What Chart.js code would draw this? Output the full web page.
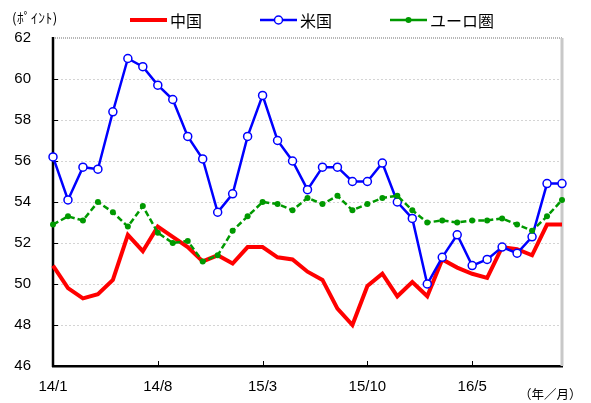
<!DOCTYPE html>
<html><head><meta charset="utf-8">
<script src="https://cdn.jsdelivr.net/npm/chart.js@4.4.1/dist/chart.umd.min.js"></script>
<style>
html,body{margin:0;padding:0;background:#fff;}
#wrap{position:relative;width:591px;height:403px;}
#c{position:absolute;left:0;top:0;}
.unit{position:absolute;font-family:"Noto Sans CJK JP";color:#000;white-space:nowrap;}
#legend{position:absolute;left:0;top:9px;height:22px;width:591px;font-family:"Noto Sans CJK JP";font-size:16px;color:#000;}
.li{position:absolute;top:0;display:flex;align-items:center;height:22px;}
.li svg{margin-right:3px;}
</style></head>
<body>
<div id="wrap">
<canvas id="c" width="591" height="403"></canvas>
<div class="unit" style="left:12px;top:7px;font-size:13.5px;letter-spacing:0.5px;">(ﾎﾟｲﾝﾄ)</div>
<div class="unit" style="left:519px;top:384px;font-size:12.5px;">（年／月）</div>
<div id="legend"></div>
</div>
<script>
const categories = ['14/1','14/2','14/3','14/4','14/5','14/6','14/7','14/8','14/9','14/10','14/11','14/12',
 '15/1','15/2','15/3','15/4','15/5','15/6','15/7','15/8','15/9','15/10','15/11','15/12',
 '16/1','16/2','16/3','16/4','16/5','16/6','16/7','16/8','16/9','16/10','16/11'];
const china = [50.9,49.8,49.3,49.5,50.2,52.4,51.6,52.8,52.3,51.8,51.1,51.4,
 51.0,51.8,51.8,51.3,51.2,50.6,50.2,48.8,48.0,49.9,50.5,49.4,
 50.1,49.4,51.2,50.8,50.5,50.3,51.8,51.7,51.4,52.9,52.9];
const us = [56.2,54.1,55.7,55.6,58.4,61.0,60.6,59.7,59.0,57.2,56.1,53.5,
 54.4,57.2,59.2,57.0,56.0,54.6,55.7,55.7,55.0,55.0,55.9,54.0,
 53.2,50.0,51.3,52.4,50.9,51.2,51.8,51.5,52.3,54.9,54.9];
const euro = [52.9,53.3,53.1,54.0,53.5,52.8,53.8,52.5,52.0,52.1,51.1,51.4,
 52.6,53.3,54.0,53.9,53.6,54.2,53.9,54.3,53.6,53.9,54.2,54.3,
 53.6,53.0,53.1,53.0,53.1,53.1,53.2,52.9,52.6,53.3,54.1];
const seriesNames = ['中国','米国','ユーロ圏'];
const labelStep = 7;
const yMin = 46, yMax = 62, yStep = 2;

const datasets = [
 {label:seriesNames[0], data:china, borderColor:'#ff0000', borderWidth:4, pointRadius:0, order:3},
 {label:seriesNames[1], data:us, borderColor:'#0000ff', borderWidth:2.5, pointRadius:4, pointBackgroundColor:'#ffffff', pointBorderColor:'#0000ff', pointBorderWidth:1.5, order:2},
 {label:seriesNames[2], data:euro, borderColor:'#009900', borderWidth:2.5, borderDash:[6,3], pointRadius:3, pointBackgroundColor:'#009900', pointBorderColor:'#009900', pointBorderWidth:0, order:1}
];

const frame = {
 id:'frame',
 beforeDatasetsDraw(chart){
  const {ctx, chartArea:a, scales:{x,y}} = chart;
  ctx.save();
  // top border
  ctx.strokeStyle='#a0a0a0'; ctx.lineWidth=1.5; ctx.setLineDash([1,1]);
  ctx.beginPath(); ctx.moveTo(a.left, a.top); ctx.lineTo(a.right, a.top); ctx.stroke();
  ctx.setLineDash([]);
  // right border
  ctx.fillStyle='#c8c8c8';
  ctx.fillRect(a.right-1.5, a.top, 3, a.bottom-a.top);
  // left axis line (solid)
  const yt = y.getPixelForValue(yMax), yb = y.getPixelForValue(yMin);
  ctx.fillStyle='#000';
  ctx.fillRect(a.left-1.25, yt-1, 2.5, yb-yt+2);
  // inward tick marks
  for(let v=yMin+yStep; v<yMax; v+=yStep){
   const py=Math.round(y.getPixelForValue(v));
   ctx.fillRect(a.left, py, 5, 1);
  }
  for(let i=labelStep;i<categories.length;i+=labelStep){
   const px=Math.round(x.getPixelForValue(i));
   ctx.fillRect(px, a.bottom-5, 1, 5);
  }
  ctx.restore();
 }
};

new Chart(document.getElementById('c'), {
 type:'line',
 data:{labels:categories, datasets},
 options:{
  responsive:false, animation:false,
  layout:{padding:{top:38,right:29,left:0,bottom:0}},
  elements:{line:{tension:0}},
  plugins:{legend:{display:false}, tooltip:{enabled:false}},
  scales:{
   x:{
    offset:false,
    grid:{display:false, drawTicks:false},
    border:{display:true,color:'#000',width:2.5},
    ticks:{autoSkip:false, maxRotation:0, padding:12, color:'#000',
      font:{family:'"Liberation Sans"', size:15},
      callback:(v,i)=> i%labelStep===0 ? categories[i] : ''},
    afterFit:(s)=>{s.height=37;}
   },
   y:{
    min:yMin, max:yMax,
    grid:{drawTicks:false, lineWidth:1,
      color:(c)=> (c.tick && (c.tick.value===yMin || c.tick.value===yMax)) ? 'rgba(0,0,0,0)' : '#d4d4d4'},
    border:{display:false,dash:[2,2]},
    ticks:{stepSize:yStep, padding:22, color:'#000', font:{family:'"Liberation Sans"', size:15}},
    afterFit:(s)=>{s.width=53;}
   }
  }
 },
 plugins:[frame]
});

// HTML legend built from datasets
const legendPos = [130, 260, 390];
const lg = document.getElementById('legend');
datasets.forEach((d,i)=>{
 const el = document.createElement('div');
 el.className='li'; el.style.left=legendPos[i]+'px';
 let marker='';
 if(i===1) marker='<circle cx="18.5" cy="11" r="4" fill="#fff" stroke="'+d.borderColor+'" stroke-width="1.5"/>';
 if(i===2) marker='<circle cx="18.5" cy="11" r="3" fill="'+d.borderColor+'"/>';
 el.innerHTML='<svg width="37" height="22"><line x1="0" y1="11" x2="37" y2="11" stroke="'+d.borderColor+'" stroke-width="'+d.borderWidth+'"/>'+marker+'</svg><span>'+d.label+'</span>';
 lg.appendChild(el);
});
</script>
</body></html>
